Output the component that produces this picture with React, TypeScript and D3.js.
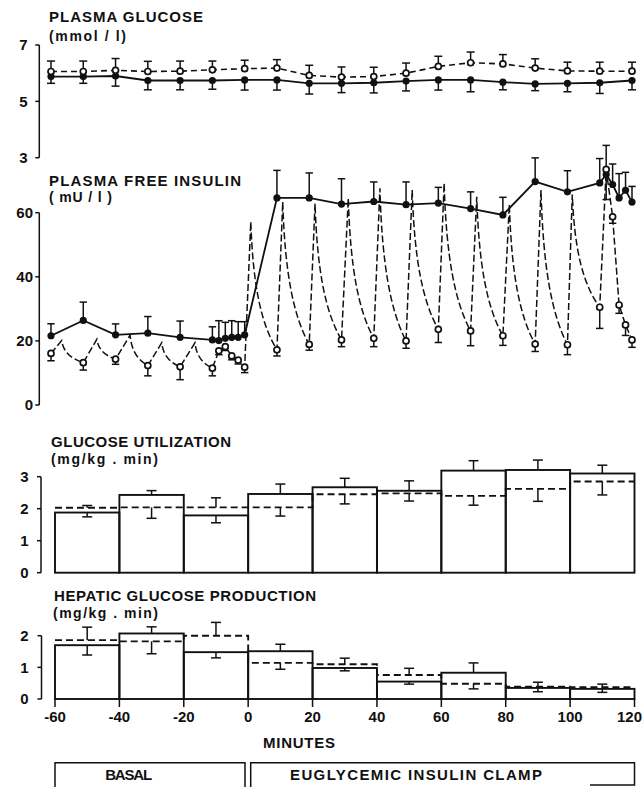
import React from 'react';
import * as d3 from 'd3';

// ---- plasma glucose (mmol/l), every 10 min ----
const glucoseTimes = [-60, -50, -40, -30, -20, -10, 0, 10, 20, 30, 40, 50, 60, 70, 80, 90, 100, 110, 120];
const glucoseOpen = [6.06, 6.06, 6.1, 6.06, 6.07, 6.12, 6.16, 6.18, 5.92, 5.86, 5.88, 6.0, 6.24, 6.37, 6.33, 6.18, 6.08, 6.07, 6.07];
const glucoseOpenErr = [0.37, 0.37, 0.42, 0.36, 0.36, 0.31, 0.3, 0.3, 0.36, 0.36, 0.33, 0.36, 0.36, 0.38, 0.33, 0.33, 0.31, 0.32, 0.32];
const glucoseFilled = [5.88, 5.88, 5.9, 5.74, 5.74, 5.74, 5.76, 5.76, 5.64, 5.64, 5.66, 5.72, 5.76, 5.76, 5.68, 5.62, 5.64, 5.66, 5.74];
const glucoseFilledErr = [0.24, 0.24, 0.36, 0.33, 0.33, 0.31, 0.36, 0.36, 0.38, 0.33, 0.36, 0.35, 0.36, 0.42, 0.27, 0.24, 0.3, 0.38, 0.33];

// ---- plasma free insulin (mU/l) ----
const insulinTimes = [-60, -50, -40, -30, -20, -10, -8, -6, -4, -2, 0, 10, 20, 30, 40, 50, 60, 70, 80, 90, 100, 110, 112, 114, 116, 118, 120];
const insulinFilled = [21.6, 26.4, 21.9, 22.4, 21.1, 20.3, 20.1, 20.8, 21.1, 21.1, 21.9, 64.6, 64.6, 62.7, 63.5, 62.5, 63.0, 61.3, 59.3, 69.7, 66.5, 69.3, 71.9, 68.8, 64.6, 67.0, 63.3];
const insulinFilledErr = [3.75, 5.7, 3.4, 5.2, 5.1, 4.1, 6.2, 5.0, 5.2, 4.9, 4.1, 8.6, 7.8, 7.9, 6.1, 7.1, 4.9, 5.2, 5.5, 7.4, 6.6, 7.6, 7.8, 6.4, 7.6, 5.6, 4.9];
const insulinOpen = [16.1, 13.2, 14.3, 12.3, 11.9, 11.5, 16.9, 18.2, 15.3, 14.0, 11.8, 17.2, 18.9, 20.3, 20.8, 20.0, 23.6, 23.1, 21.6, 19.0, 18.8, 30.5, 73.5, 58.7, 31.2, 25.0, 20.3];
const insulinOpenErr = [2.3, 2.3, 1.6, 3.2, 4.0, 2.4, 1.2, 1.2, 1.2, 1.2, 1.7, 1.9, 1.8, 2.1, 2.6, 2.3, 4.1, 4.6, 3.0, 2.3, 3.1, 6.6, 7.5, 2.0, 2.6, 3.3, 2.3];
// pulse peaks of the dashed (pulsatile) curve
const pulseTimes = [-56.7, -45.8, -35.5, -25.7, -15.4, 1.9, 11.8, 21.8, 32.1, 41.9, 51.9, 61.8, 71.9, 82.0, 91.8, 101.5];
const pulseValues = [20.1, 20.5, 21.8, 19.4, 19.4, 57.2, 63.4, 62.9, 64.5, 67.6, 67.1, 69.2, 65.0, 62.6, 67.1, 65.7];

// ---- 20 min periods ----
const periodEdges = [-60, -40, -20, 0, 20, 40, 60, 80, 100, 120];

const utilSolid = [1.88, 2.43, 1.79, 2.46, 2.67, 2.56, 3.19, 3.21, 3.1];
const utilSolidErr = [0.135, 0.135, 0.23, 0.31, 0.28, 0.31, 0.31, 0.31, 0.26];
const utilDashed = [2.03, 2.04, 2.04, 2.04, 2.45, 2.48, 2.4, 2.62, 2.85];
const utilDashedErr = [0.07, 0.34, 0.3, 0.27, 0.3, 0.24, 0.29, 0.39, 0.42];

const hepSolid = [1.7, 2.07, 1.48, 1.51, 0.98, 0.55, 0.83, 0.35, 0.32];
const hepSolidErr = [0.31, 0.21, 0.18, 0.22, 0.09, 0.08, 0.31, 0.12, 0.11];
const hepDashed = [1.86, 1.82, 2.0, 1.14, 1.1, 0.76, 0.48, 0.39, 0.37];
const hepDashedErr = [0.41, 0.39, 0.42, 0.2, 0.19, 0.21, 0.16, 0.14, 0.1];

const glucoseTicks = [3, 5, 7];
const insulinTicks = [0, 20, 40, 60];
const utilTicks = [0, 1, 2, 3];
const hepTicks = [0, 1, 2];
const minuteTicks = [-60, -40, -20, 0, 20, 40, 60, 80, 100, 120];

const FONT = "'Liberation Sans', Arial, sans-serif";
const INK = '#111';

const xTop = d3.scaleLinear().domain([-60, 120]).range([51, 632]);
const xBot = d3.scaleLinear().domain([-60, 120]).range([55, 634.5]);
const yGlu = d3.scaleLinear().domain([3, 7]).range([157.7, 45]);
const yIns = d3.scaleLinear().domain([0, 60]).range([405, 212.7]);
const yUtil = d3.scaleLinear().domain([0, 3]).range([572.7, 476.7]);
const yHep = d3.scaleLinear().domain([0, 2]).range([699, 635.7]);

type Scale = d3.ScaleLinear<number, number>;

const Label = ({ x, y, len, children, anchor = 'start', size = 15 }: any) => (
  <text x={x} y={y} textLength={len} lengthAdjust="spacing" textAnchor={anchor}
    fontFamily={FONT} fontWeight="bold" fontSize={size} fill={INK}>{children}</text>
);

const YAxis = ({ scale, ticks, x, labelRight }: { scale: Scale; ticks: number[]; x: number; labelRight: number }) => {
  const [lo, hi] = d3.extent(ticks) as [number, number];
  return (
    <g>
      <line x1={x} x2={x} y1={scale(lo)} y2={scale(hi)} stroke={INK} strokeWidth={1.5} />
      {ticks.map(t => (
        <g key={t}>
          <line x1={x - 4} x2={x} y1={scale(t)} y2={scale(t)} stroke={INK} strokeWidth={1.5} />
          <text x={labelRight} y={scale(t)} dy="0.36em" textAnchor="end" fontFamily={FONT}
            fontWeight="bold" fontSize={15} fill={INK}>{t}</text>
        </g>
      ))}
    </g>
  );
};

const ErrBar = ({ x, y0, y1, half = 4 }: { x: number; y0: number; y1: number; half?: number }) => (
  <g stroke={INK} strokeWidth={1.5}>
    <line x1={x} x2={x} y1={y0} y2={y1} />
    <line x1={x - half} x2={x + half} y1={y1} y2={y1} />
  </g>
);

// two series at the same times: error drawn away from the other series
function pairedErrors(times: number[], a: number[], aErr: number[], b: number[], bErr: number[], x: Scale, y: Scale, half: number) {
  const out: JSX.Element[] = [];
  times.forEach((t, i) => {
    const aUp = a[i] >= b[i];
    out.push(<ErrBar key={'a' + i} x={x(t)} y0={y(a[i])} y1={y(a[i] + (aUp ? aErr[i] : -aErr[i]))} half={half} />);
    out.push(<ErrBar key={'b' + i} x={x(t)} y0={y(b[i])} y1={y(b[i] + (aUp ? -bErr[i] : bErr[i]))} half={half} />);
  });
  return out;
}

// dashed curve: rise to each pulse peak, then decay to the next sample
function pulsePath(times: number[], values: number[], pTimes: number[], pValues: number[]) {
  const pts = [
    ...times.map((t, i) => ({ t, v: values[i], pulse: false })),
    ...pTimes.map((t, i) => ({ t, v: pValues[i], pulse: true })),
  ].sort((a, b) => a.t - b.t);
  const p = d3.path();
  pts.forEach((d, i) => {
    const px = xTop(d.t), py = yIns(d.v);
    if (i === 0) { p.moveTo(px, py); return; }
    const prev = pts[i - 1];
    if (prev.pulse && !d.pulse) {
      const x0 = xTop(prev.t), y0 = yIns(prev.v);
      const dx = px - x0, dy = py - y0;
      p.bezierCurveTo(x0 + 0.08 * dx, y0 + 0.5 * dy, x0 + 0.4 * dx, y0 + 0.8 * dy, px, py);
    } else {
      p.lineTo(px, py);
    }
  });
  return p.toString();
}

const BarPanel = ({ y, solid, solidErr, dashed, dashedErr }: { y: Scale; solid: number[]; solidErr: number[]; dashed: number[]; dashedErr: number[] }) => {
  const starts = periodEdges.slice(0, -1);
  const step = d3.line<[number, number]>().x(d => xBot(d[0])).y(d => y(d[1])).curve(d3.curveStepAfter);
  const stepPts: [number, number][] = [...starts.map((t, i) => [t, dashed[i]] as [number, number]), [120, dashed[dashed.length - 1]]];
  const mids = starts.map((t, i) => (t + periodEdges[i + 1]) / 2);
  return (
    <g>
      {starts.map((t, i) => (
        <rect key={t} x={xBot(t)} width={xBot(periodEdges[i + 1]) - xBot(t)} y={y(solid[i])} height={y(0) - y(solid[i])}
          fill="none" stroke={INK} strokeWidth={1.9} />
      ))}
      <path d={step(stepPts) || ''} fill="none" stroke={INK} strokeWidth={1.9} strokeDasharray="7,4" />
      {pairedErrors(mids, solid, solidErr, dashed, dashedErr, xBot, y, 5)}
    </g>
  );
};

export default function App() {
  const line = (x: Scale, y: Scale) => d3.line<[number, number]>().x(d => x(d[0])).y(d => y(d[1]));
  const gluOpenPts = glucoseTimes.map((t, i) => [t, glucoseOpen[i]] as [number, number]);
  const gluFillPts = glucoseTimes.map((t, i) => [t, glucoseFilled[i]] as [number, number]);
  const insFillPts = insulinTimes.map((t, i) => [t, insulinFilled[i]] as [number, number]);
  const lastTick = minuteTicks[minuteTicks.length - 1];

  return (
    <svg width={643} height={787} style={{ position: 'absolute', left: 0, top: 0, background: '#fff' }}>
      {/* plasma glucose */}
      <Label x={49} y={22} len={154}>PLASMA GLUCOSE</Label>
      <Label x={49} y={41} len={77} size={14}>(mmol / l)</Label>
      <YAxis scale={yGlu} ticks={glucoseTicks} x={39.3} labelRight={27.5} />
      <path d={line(xTop, yGlu)(gluOpenPts) || ''} fill="none" stroke={INK} strokeWidth={1.6} strokeDasharray="6,4" />
      <path d={line(xTop, yGlu)(gluFillPts) || ''} fill="none" stroke={INK} strokeWidth={1.8} />
      {pairedErrors(glucoseTimes, glucoseOpen, glucoseOpenErr, glucoseFilled, glucoseFilledErr, xTop, yGlu, 4)}
      {gluFillPts.map(([t, v]) => <circle key={'gf' + t} cx={xTop(t)} cy={yGlu(v)} r={3.6} fill={INK} />)}
      {gluOpenPts.map(([t, v]) => <circle key={'go' + t} cx={xTop(t)} cy={yGlu(v)} r={3} fill="#fff" stroke={INK} strokeWidth={1.7} />)}

      {/* plasma free insulin */}
      <Label x={49} y={185.5} len={192}>PLASMA FREE INSULIN</Label>
      <Label x={49} y={201.5} len={63} size={14}>( mU / l )</Label>
      <YAxis scale={yIns} ticks={insulinTicks} x={39.3} labelRight={33} />
      <path d={pulsePath(insulinTimes, insulinOpen, pulseTimes, pulseValues)} fill="none" stroke={INK} strokeWidth={1.5} strokeDasharray="7,3" />
      <path d={line(xTop, yIns)(insFillPts) || ''} fill="none" stroke={INK} strokeWidth={1.8} />
      {pairedErrors(insulinTimes, insulinFilled, insulinFilledErr, insulinOpen, insulinOpenErr, xTop, yIns, 3.7)}
      {insFillPts.map(([t, v]) => <circle key={'if' + t} cx={xTop(t)} cy={yIns(v)} r={3.6} fill={INK} />)}
      {insulinTimes.map((t, i) => <circle key={'io' + t} cx={xTop(t)} cy={yIns(insulinOpen[i])} r={3} fill="#fff" stroke={INK} strokeWidth={1.7} />)}

      {/* glucose utilization */}
      <Label x={51} y={447} len={180}>GLUCOSE UTILIZATION</Label>
      <Label x={51} y={463.5} len={107} size={14}>(mg/kg . min)</Label>
      <YAxis scale={yUtil} ticks={utilTicks} x={41} labelRight={28.5} />
      <BarPanel y={yUtil} solid={utilSolid} solidErr={utilSolidErr} dashed={utilDashed} dashedErr={utilDashedErr} />

      {/* hepatic glucose production */}
      <Label x={54} y={601} len={262}>HEPATIC GLUCOSE PRODUCTION</Label>
      <Label x={53} y={617.5} len={105} size={14}>(mg/kg . min)</Label>
      <YAxis scale={yHep} ticks={hepTicks} x={41.5} labelRight={28.5} />
      <BarPanel y={yHep} solid={hepSolid} solidErr={hepSolidErr} dashed={hepDashed} dashedErr={hepDashedErr} />

      {/* minutes axis */}
      {minuteTicks.map(t => (
        <g key={'m' + t}>
          <line x1={xBot(t)} x2={xBot(t)} y1={yHep(0)} y2={yHep(0) + 8} stroke={INK} strokeWidth={1.5} />
          <text x={t === lastTick ? 642 : xBot(t)} y={722} textAnchor={t === lastTick ? 'end' : 'middle'}
            fontFamily={FONT} fontWeight="bold" fontSize={15} fill={INK}>{t}</text>
        </g>
      ))}
      <Label x={299} y={748} len={72} anchor="middle">MINUTES</Label>

      {/* protocol boxes */}
      <path d={`M${xBot(-60)},787V762.7H245V787`} fill="none" stroke={INK} strokeWidth={1.5} />
      <path d={`M250.7,787V762.7H${xBot(120)}V785H590`} fill="none" stroke={INK} strokeWidth={1.5} />
      <Label x={128.7} y={780} len={47} anchor="middle">BASAL</Label>
      <Label x={416} y={780} len={252} anchor="middle">EUGLYCEMIC INSULIN CLAMP</Label>
    </svg>
  );
}
